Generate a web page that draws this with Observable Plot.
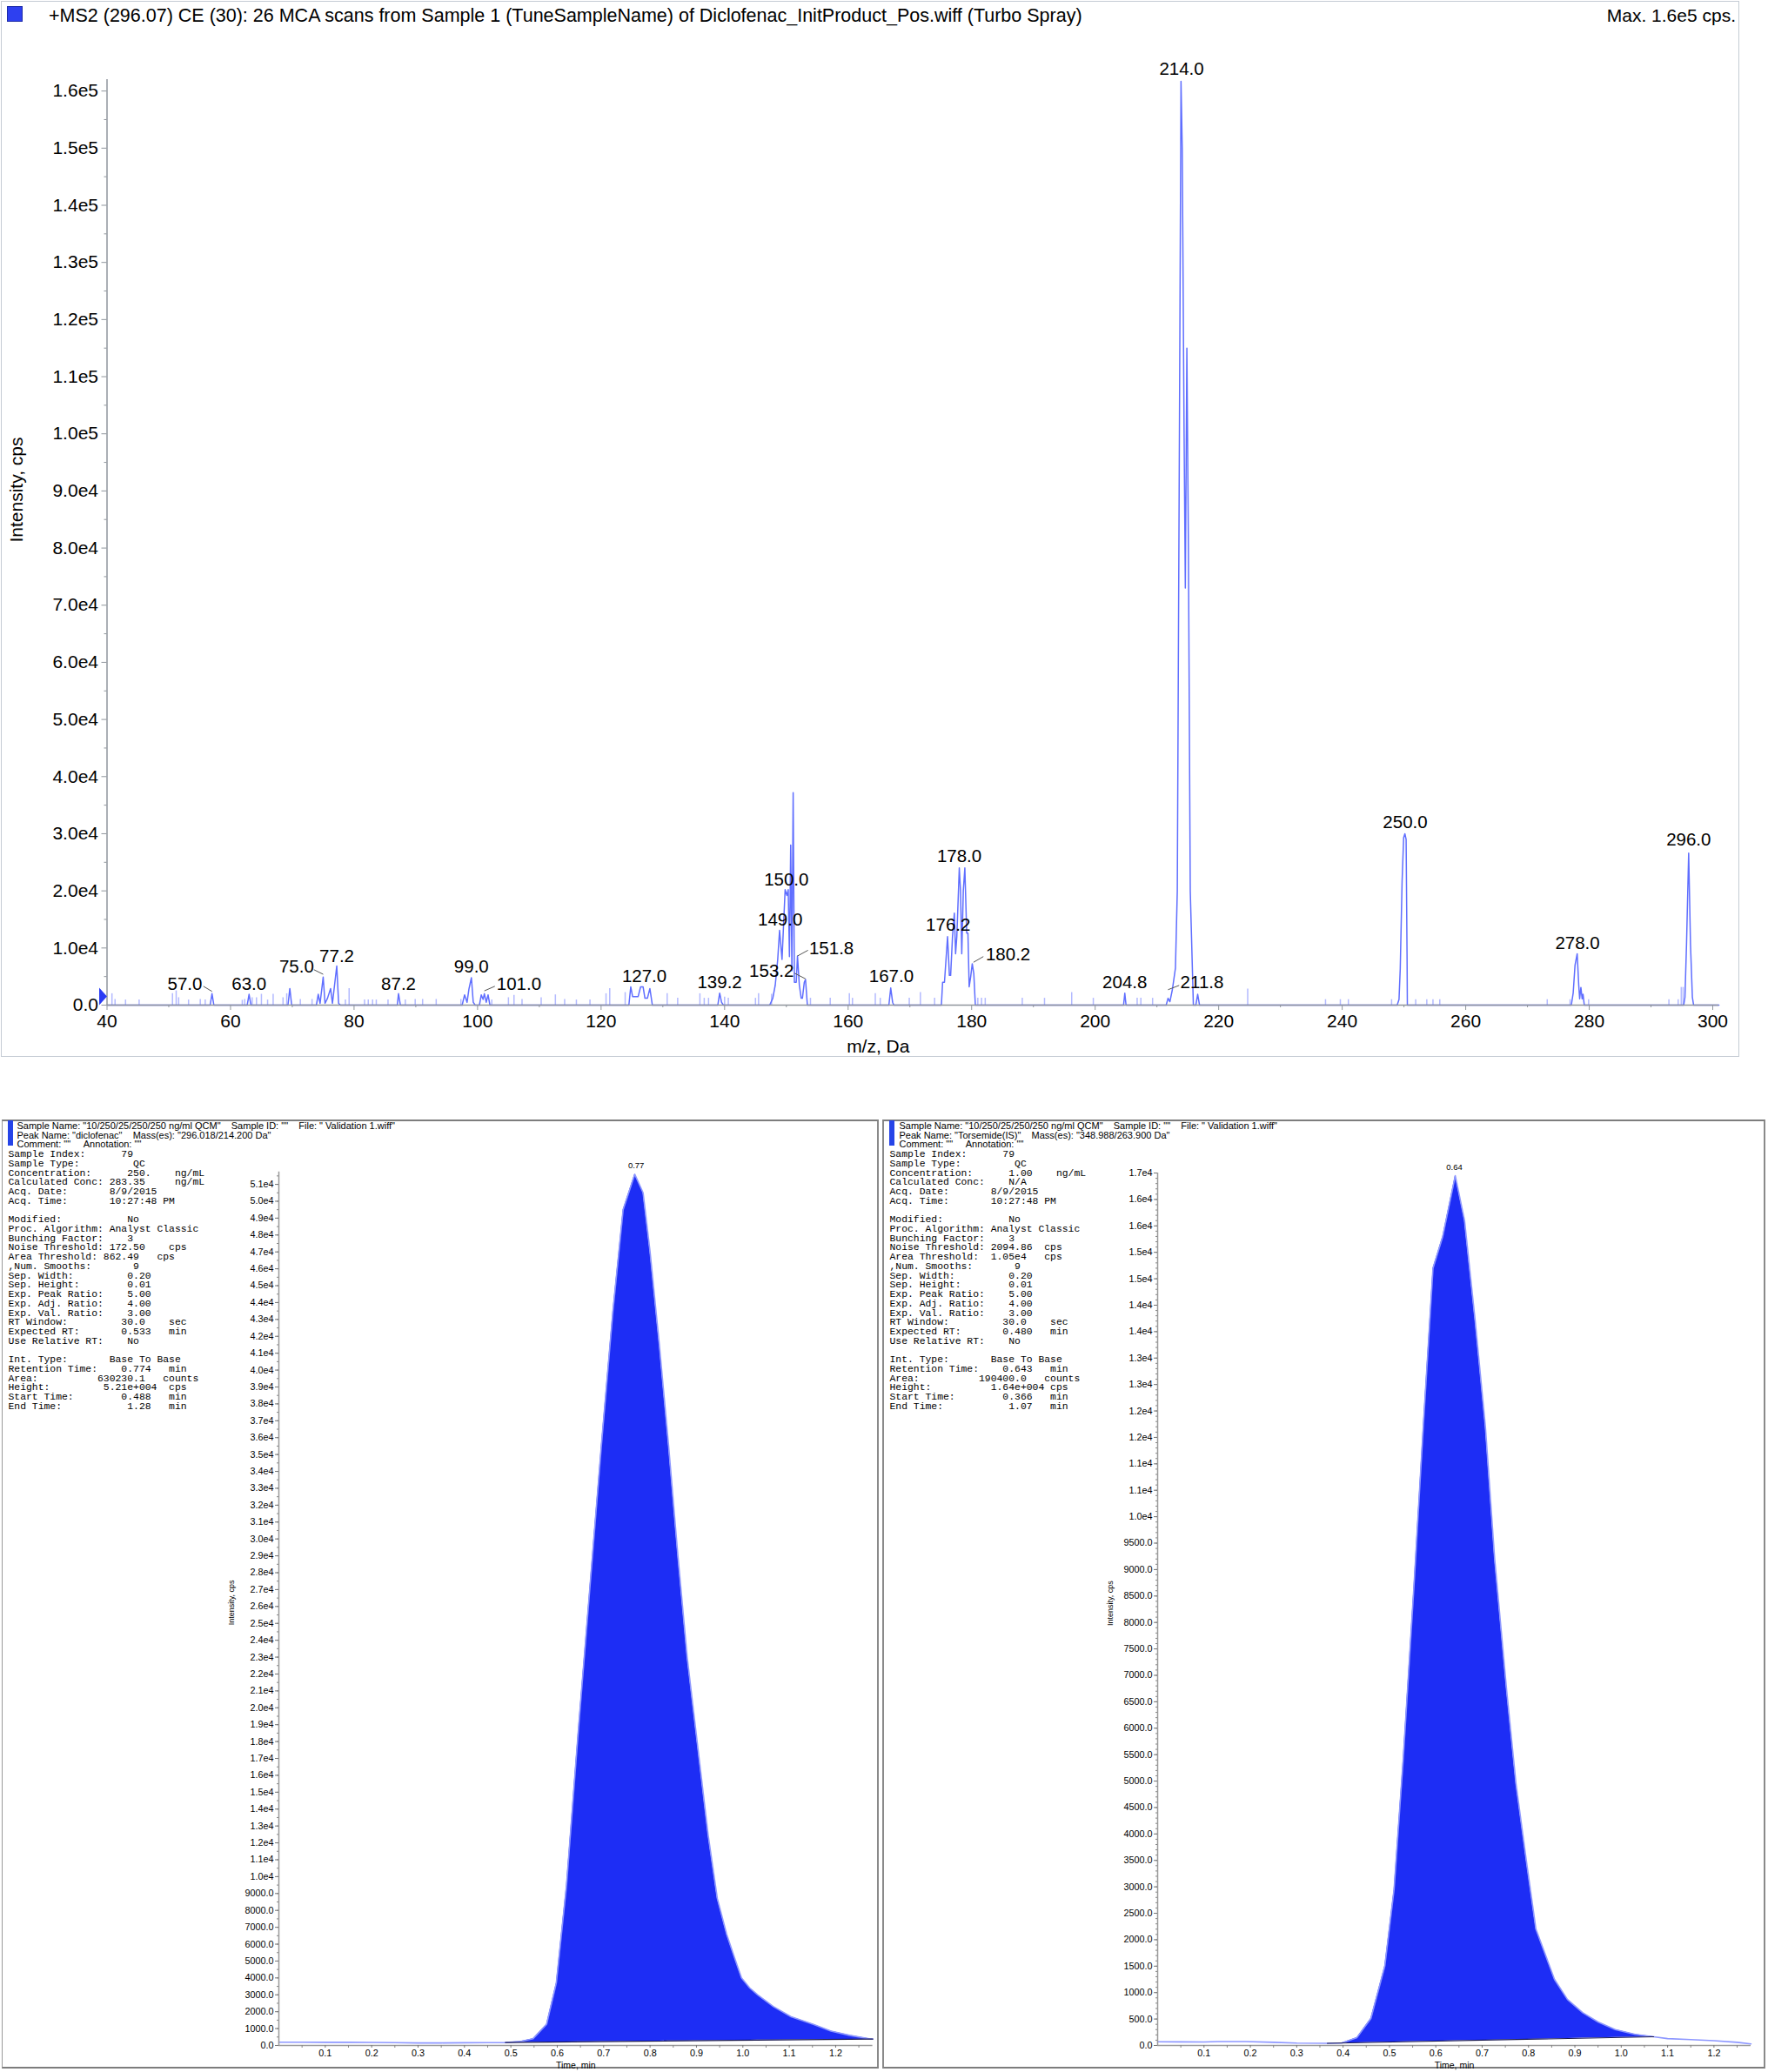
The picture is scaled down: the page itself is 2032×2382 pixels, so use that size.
<!DOCTYPE html>
<html><head><meta charset="utf-8">
<script src="https://cdn.jsdelivr.net/npm/d3@7"></script>
<script src="https://cdn.jsdelivr.net/npm/@observablehq/plot@0.6"></script>
<style>
html,body{margin:0;padding:0;background:#fff;}
body{width:2032px;height:2382px;position:relative;overflow:hidden;font-family:"Liberation Sans",Arial,sans-serif;color:#000;}
.abs{position:absolute;}
.box{position:absolute;box-sizing:border-box;}
.mono{position:absolute;font-family:"Liberation Mono","Courier New",monospace;font-size:11.4px;line-height:10.72px;white-space:pre;}
.hdr{position:absolute;font-size:11px;line-height:10.6px;white-space:pre;}
</style></head><body>
<script>
// ================= DATA =================
// --- top: product-ion spectrum ---
const msTitle = "+MS2 (296.07) CE (30): 26 MCA scans from Sample 1 (TuneSampleName) of Diclofenac_InitProduct_Pos.wiff (Turbo Spray)";
const msMaxText = "Max. 1.6e5 cps.";
const msXLabel = "m/z, Da";
const msYLabel = "Intensity, cps";
const msXTicks = [40,60,80,100,120,140,160,180,200,220,240,260,280,300];
const msXMinor = [50,70,90,110,130,150,170,190,210,230,250,270,290];
const msYTicks = [0,10000,20000,30000,40000,50000,60000,70000,80000,90000,100000,110000,120000,130000,140000,150000,160000];
const msYTickLabels = ["0.0","1.0e4","2.0e4","3.0e4","4.0e4","5.0e4","6.0e4","7.0e4","8.0e4","9.0e4","1.0e5","1.1e5","1.2e5","1.3e5","1.4e5","1.5e5","1.6e5"];
// profile trace [m/z, intensity]
const msProfile = [
 [40,0],[56.7,0],[57.0,2000],[57.3,0],
 [62.7,0],[63.0,1900],[63.3,0],
 [69.3,0],[69.6,2900],[69.9,0],
 [73.9,0],[74.2,1900],[74.5,300],[75.0,4900],[75.3,300],[75.7,1200],[76.2,2900],[76.5,300],[77.2,6850],[77.5,300],[77.8,0],
 [87.0,0],[87.2,2000],[87.5,0],
 [97.5,0],[97.9,1800],[98.3,500],[98.6,2800],[99.0,4800],[99.3,500],[99.6,0],
 [100.3,0],[100.6,1800],[100.9,1000],[101.1,2000],[101.4,500],[101.7,1800],[102.0,0],
 [124.5,0],[124.8,3200],[125.1,1500],[125.6,1500],[126.0,1500],[126.4,3200],[126.8,3200],[127.1,1200],[127.5,1200],[127.9,2900],[128.3,0],
 [138.9,0],[139.2,2100],[139.5,500],[139.8,0],
 [147.3,0],[147.8,1200],[148.2,3500],[148.6,8000],[148.9,13100],[149.3,8000],[149.8,20200],[150.1,19200],[150.3,20200],[150.5,8500],[150.7,28000],[150.9,6000],[151.1,37200],[151.3,4000],[151.6,4000],[151.8,8600],[152.1,3500],[152.4,1200],[152.6,1200],[152.9,4000],[153.1,4500],[153.4,0],
 [166.6,0],[166.9,3000],[167.2,500],[167.4,0],
 [175.1,0],[175.3,4000],[175.6,4000],[176.1,12000],[176.4,5200],[176.6,5200],[176.9,12000],[177.2,16100],[177.4,9000],[177.6,12000],[178.0,24000],[178.2,20000],[178.4,9000],[178.65,20000],[178.9,24000],[179.2,12600],[179.4,12600],[179.6,3200],[179.85,5000],[180.1,7250],[180.35,5500],[180.6,0],
 [204.6,0],[204.8,2100],[205.0,0],
 [211.5,0],[211.8,1200],[212.1,600],[212.5,2700],[213.0,6500],[213.3,20000],[213.6,90000],[213.9,161700],[214.1,150000],[214.4,100000],[214.6,73000],[214.85,115000],[215.1,80000],[215.4,20000],[215.9,0],[216.3,0],[216.6,1900],[216.9,0],
 [248.9,0],[249.2,1000],[249.4,6400],[249.7,21700],[249.95,29300],[250.15,30000],[250.35,29000],[250.5,9000],[250.55,0],
 [277.1,0],[277.4,2100],[277.7,7000],[278.05,9000],[278.3,3500],[278.45,1100],[278.65,3100],[278.85,1100],[279.0,1900],[279.2,0],
 [295.3,0],[295.5,1400],[295.75,10500],[296.1,26600],[296.4,10500],[296.7,1400],[296.9,0],[301,0]
];
// isolated noise sticks [m/z, intensity]
const msNoise = [
 [40.8,2000],[41.3,1000],[43.0,900],[45.2,900],[50.6,2000],[51.2,2500],[51.6,1300],[53.2,900],[55.1,1000],[55.9,900],
 [61.9,850],[62.3,1000],[63.5,1300],[64.2,1300],[65.0,1900],[66.0,900],[66.9,1900],[68.5,1300],[69.1,2000],[71.3,1000],
 [73.2,1000],[78.6,900],[79.2,2900],[81.7,900],[82.3,900],[83.0,900],[83.6,900],[85.5,900],[88.3,900],[89.9,1000],
 [91.1,1000],[93.3,1000],[97.3,1000],[102.3,900],[105.0,1300],[105.9,1700],[107.2,1000],[110.3,1300],[112.6,1800],[114.1,1000],
 [116.0,900],[118.2,900],[120.8,2000],[121.4,2900],[123.9,2200],[130.7,2000],[132.4,1200],[136.0,2000],[136.7,1200],[137.4,1200],
 [140.0,1400],[140.6,1200],[145.0,1200],[145.5,2000],[147.6,1900],[153.9,1200],[157.1,1200],[160.2,2000],[160.7,1200],[164.4,2000],
 [165.2,1200],[169.9,1200],[171.7,2200],[174.0,1200],[181.0,1200],[181.6,1200],[182.2,1200],[188.2,1200],[191.8,1200],[196.2,2200],
 [199.7,1200],[206.8,1200],[207.4,1200],[209.3,1200],[224.7,2800],[237.3,960],[239.7,960],[241.0,960],[248.0,960],[251.9,960],
 [253.7,960],[254.7,960],[255.8,960],[273.2,960],[276.9,960],[279.9,960],[292.9,960],[294.4,960],[294.9,3100],[295.2,3100]
];
// peak annotations: text, label centre (m/z, intensity)
const msPeakText = ["57.0","63.0","75.0","77.2","87.2","99.0","101.0","127.0","139.2","153.2","149.0","150.0","151.8","167.0","176.2","178.0","180.2","204.8","211.8","214.0","250.0","278.0","296.0"];
const msPeakMz   = [52.6,63.0,70.7,77.2,87.2,99.0,106.7,127.0,139.2,147.6,149.0,150.0,157.3,167.0,176.2,178.0,185.9,204.8,217.3,214.0,250.2,278.1,296.1];
const msPeakInt  = [3700,3700,6700,8600,3700,6700,3700,5000,4000,6000,15000,22000,9900,5000,14000,26000,8900,4000,3900,163800,32000,10800,28900];
// leader lines from label to peak
const leadFromMz  = [55.6,73.5,102.8,151.3,153.5,181.9,213.6];
const leadFromInt = [3300,6200,3300,5600,9600,8500,3450];
const leadToMz    = [57.0,75.0,101.1,153.1,151.8,180.3,211.8];
const leadToInt   = [2400,5400,2500,4600,8600,7500,2700];

// --- bottom: XIC panels ---
const xicXTicks = [0.1,0.2,0.3,0.4,0.5,0.6,0.7,0.8,0.9,1.0,1.1,1.2];
const xicXLabel = "Time, min";
const xicYLabel = "Intensity, cps";
const dicloYTicks = [0,1000,2000,3000,4000,5000,6000,7000,8000,9000,10000,11000,12000,13000,14000,15000,16000,17000,18000,19000,20000,21000,22000,23000,24000,25000,26000,27000,28000,29000,30000,31000,32000,33000,34000,35000,36000,37000,38000,39000,40000,41000,42000,43000,44000,45000,46000,47000,48000,49000,50000,51000];
const dicloYLabels = ["0.0","1000.0","2000.0","3000.0","4000.0","5000.0","6000.0","7000.0","8000.0","9000.0","1.0e4","1.1e4","1.2e4","1.3e4","1.4e4","1.5e4","1.6e4","1.7e4","1.8e4","1.9e4","2.0e4","2.1e4","2.2e4","2.3e4","2.4e4","2.5e4","2.6e4","2.7e4","2.8e4","2.9e4","3.0e4","3.1e4","3.2e4","3.3e4","3.4e4","3.5e4","3.6e4","3.7e4","3.8e4","3.9e4","4.0e4","4.1e4","4.2e4","4.3e4","4.4e4","4.5e4","4.6e4","4.7e4","4.8e4","4.9e4","5.0e4","5.1e4"];
const torsYTicks = [0,500,1000,1500,2000,2500,3000,3500,4000,4500,5000,5500,6000,6500,7000,7500,8000,8500,9000,9500,10000,10500,11000,11500,12000,12500,13000,13500,14000,14500,15000,15500,16000,16500];
const torsYLabels = ["0.0","500.0","1000.0","1500.0","2000.0","2500.0","3000.0","3500.0","4000.0","4500.0","5000.0","5500.0","6000.0","6500.0","7000.0","7500.0","8000.0","8500.0","9000.0","9500.0","1.0e4","1.1e4","1.1e4","1.2e4","1.2e4","1.3e4","1.3e4","1.4e4","1.4e4","1.5e4","1.5e4","1.6e4","1.6e4","1.7e4"];

const dicloTime = [0.00,0.05,0.10,0.15,0.20,0.25,0.30,0.35,0.40,0.45,0.488,0.52,0.548,0.577,0.598,0.620,0.645,0.670,0.695,0.720,0.742,0.767,0.785,0.800,0.820,0.840,0.860,0.880,0.895,0.910,0.925,0.945,0.965,0.982,0.997,1.015,1.032,1.066,1.104,1.152,1.190,1.230,1.272,1.280];
const dicloInt  = [190,190,185,185,180,165,150,150,160,170,175,230,400,1250,3700,9500,18500,27000,35500,43500,49500,51600,50500,47000,41500,35500,29000,23000,19500,16000,12500,8700,6600,5200,4000,3400,3000,2300,1700,1250,850,600,400,380];
const dicloStart = 0.488, dicloEnd = 1.28, dicloBase0 = 175, dicloBase1 = 380;
const dicloPeakText = "0.77", dicloPeakTime = 0.77;

const torsTime = [0.00,0.05,0.10,0.13,0.19,0.25,0.30,0.366,0.397,0.430,0.460,0.490,0.510,0.530,0.553,0.573,0.594,0.615,0.642,0.662,0.685,0.707,0.727,0.753,0.773,0.796,0.816,0.856,0.884,0.917,0.950,0.987,1.030,1.070,1.100,1.150,1.200,1.250,1.280];
const torsInt  = [70,68,65,75,75,60,45,40,45,150,510,1500,2950,5450,8700,11700,14700,15300,16450,15600,13700,11700,9200,6700,4950,3450,2200,1250,870,620,445,300,210,165,130,110,90,60,30];
const torsStart = 0.366, torsEnd = 1.07, torsBase0 = 40, torsBase1 = 165;
const torsPeakText = "0.64", torsPeakTime = 0.64;

const dicloHeader = [
 'Sample Name: "10/250/25/250/250 ng/ml QCM"    Sample ID: ""    File: " Validation 1.wiff"',
 'Peak Name: "diclofenac"    Mass(es): "296.018/214.200 Da"',
 'Comment: ""     Annotation: ""'];
const torsHeader = [
 'Sample Name: "10/250/25/250/250 ng/ml QCM"    Sample ID: ""    File: " Validation 1.wiff"',
 'Peak Name: "Torsemide(IS)"    Mass(es): "348.988/263.900 Da"',
 'Comment: ""     Annotation: ""'];
const dicloInfo = [
 "Sample Index:      79",
 "Sample Type:         QC",
 "Concentration:      250.    ng/mL",
 "Calculated Conc: 283.35     ng/mL",
 "Acq. Date:       8/9/2015",
 "Acq. Time:       10:27:48 PM",
 "",
 "Modified:           No",
 "Proc. Algorithm: Analyst Classic",
 "Bunching Factor:    3",
 "Noise Threshold: 172.50    cps",
 "Area Threshold: 862.49   cps",
 ",Num. Smooths:       9",
 "Sep. Width:         0.20",
 "Sep. Height:        0.01",
 "Exp. Peak Ratio:    5.00",
 "Exp. Adj. Ratio:    4.00",
 "Exp. Val. Ratio:    3.00",
 "RT Window:         30.0    sec",
 "Expected RT:       0.533   min",
 "Use Relative RT:    No",
 "",
 "Int. Type:       Base To Base",
 "Retention Time:    0.774   min",
 "Area:          630230.1   counts",
 "Height:         5.21e+004  cps",
 "Start Time:        0.488   min",
 "End Time:           1.28   min"];
const torsInfo = [
 "Sample Index:      79",
 "Sample Type:         QC",
 "Concentration:      1.00    ng/mL",
 "Calculated Conc:    N/A",
 "Acq. Date:       8/9/2015",
 "Acq. Time:       10:27:48 PM",
 "",
 "Modified:           No",
 "Proc. Algorithm: Analyst Classic",
 "Bunching Factor:    3",
 "Noise Threshold: 2094.86  cps",
 "Area Threshold:  1.05e4   cps",
 ",Num. Smooths:       9",
 "Sep. Width:         0.20",
 "Sep. Height:        0.01",
 "Exp. Peak Ratio:    5.00",
 "Exp. Adj. Ratio:    4.00",
 "Exp. Val. Ratio:    3.00",
 "RT Window:         30.0    sec",
 "Expected RT:       0.480   min",
 "Use Relative RT:    No",
 "",
 "Int. Type:       Base To Base",
 "Retention Time:    0.643   min",
 "Area:          190400.0   counts",
 "Height:          1.64e+004 cps",
 "Start Time:        0.366   min",
 "End Time:           1.07   min"];

// ================= LAYOUT HELPERS =================
const FONT = "'Liberation Sans', Arial, sans-serif";
function place(el, left, top, w, h) {
  const d = document.createElement("div");
  d.className = "abs";
  d.style.left = left + "px"; d.style.top = top + "px";
  if (w != null) d.style.width = w + "px";
  if (h != null) d.style.height = h + "px";
  if (el) d.appendChild(el);
  document.body.appendChild(d);
  return d;
}
function box(left, top, w, h, css) {
  const d = document.createElement("div");
  d.className = "box";
  Object.assign(d.style, {left: left + "px", top: top + "px", width: w + "px", height: h + "px"}, css);
  document.body.appendChild(d);
  return d;
}
function textDiv(cls, left, top, lines, css) {
  const d = document.createElement("div");
  d.className = cls;
  d.style.left = left + "px"; d.style.top = top + "px";
  d.textContent = lines.join("\n");
  if (css) Object.assign(d.style, css);
  document.body.appendChild(d);
  return d;
}

// ================= TOP SPECTRUM =================
box(1, 1, 1998, 1214, {border: "1.5px solid #c5ccd4"});
box(8, 7, 18, 18, {background: "#2e40f0", border: "1px solid #1c2aa8"});
textDiv("abs", 56, 6, [msTitle], {fontSize: "21.5px", lineHeight: "24px", whiteSpace: "pre"});
textDiv("abs", 1500, 6, [msMaxText], {fontSize: "21px", lineHeight: "24px", width: "495px", textAlign: "right", whiteSpace: "pre"});

const tri = {draw(ctx) { ctx.moveTo(-9, -10); ctx.lineTo(0, 0); ctx.lineTo(-9, 10); ctx.closePath(); }};
const msLabelMap = new Map(msYTicks.map((d, i) => [d, msYTickLabels[i]]));
const msLabels = msPeakText.map((t, i) => ({t, mz: msPeakMz[i], v: msPeakInt[i]}));
const msLeaders = leadFromMz.map((d, i) => ({x1: d, y1: leadFromInt[i], x2: leadToMz[i], y2: leadToInt[i]}));
const AX = "#8f959c";

const ms = Plot.plot({
  width: 2000, height: 1216,
  marginLeft: 122.5, marginRight: 24.9, marginTop: 91, marginBottom: 61,
  x: {domain: [40, 301]},
  y: {domain: [0, 162000]},
  style: {background: "transparent", overflow: "visible", fontFamily: FONT, color: "#000"},
  marks: [
    Plot.ruleX(msNoise, {x: d => d[0], y1: 0, y2: d => d[1], stroke: "#b3baff", strokeWidth: 1.5}),
    Plot.line(msProfile, {x: d => d[0], y: d => d[1], stroke: "#5f6eff", strokeWidth: 1.5}),
    Plot.ruleY([0], {stroke: AX, strokeWidth: 1.5}),
    Plot.ruleX([40], {stroke: AX, strokeWidth: 1.5}),
    Plot.axisY(msYTicks.slice(0, -1).map(d => d + 5000), {tickSize: 3, fill: "none", stroke: AX, label: null}),
    Plot.axisY(msYTicks, {tickSize: 6, tickPadding: 4, fontSize: 21, stroke: AX, tickFormat: d => msLabelMap.get(d), label: null}),
    Plot.axisX(msXMinor, {tickSize: 3, fill: "none", stroke: AX, label: null}),
    Plot.axisX(msXTicks, {tickSize: 6, tickPadding: 5, fontSize: 21, stroke: AX, label: null}),
    Plot.link(msLeaders, {x1: "x1", y1: "y1", x2: "x2", y2: "y2", stroke: "#555", strokeWidth: 1}),
    Plot.text(msLabels, {x: "mz", y: "v", text: "t", fontSize: 20.5, lineAnchor: "middle", fill: "#000"}),
    Plot.dot([{mz: msXTicks[0], v: 0}], {x: "mz", y: "v", symbol: tri, r: 5, fill: "#2a3cf5", stroke: "none", dy: -10}),
    Plot.text([msXLabel], {frameAnchor: "bottom", dx: -40, dy: 48, fontSize: 21, lineAnchor: "middle"}),
    Plot.text([msYLabel], {frameAnchor: "left", rotate: -90, dx: -104, fontSize: 21, lineAnchor: "middle"})
  ]
});
place(ms, 0, 0, 2000, 1216);

// ================= XIC PANELS =================
function interp(ts, vs, t) {
  for (let i = 1; i < ts.length; i++) if (t <= ts[i]) {
    const f = (t - ts[i - 1]) / (ts[i] - ts[i - 1]);
    return vs[i - 1] + f * (vs[i] - vs[i - 1]);
  }
  return vs[vs.length - 1];
}
function chrom(o) {
  const trace = o.ts.map((t, i) => ({t, v: o.vs[i]}));
  const base = t => o.b0 + (t - o.t0) / (o.t1 - o.t0) * (o.b1 - o.b0);
  const rows = [{t: o.t0, v: interp(o.ts, o.vs, o.t0), b: o.b0}];
  o.ts.forEach((t, i) => { if (t > o.t0 && t < o.t1) rows.push({t, v: o.vs[i], b: base(t)}); });
  rows.push({t: o.t1, v: interp(o.ts, o.vs, o.t1), b: o.b1});
  const lab = new Map(o.yTicks.map((d, i) => [d, o.yLabels[i]]));
  const apex = d3.max(o.vs);
  const xMinor = d3.range(0.05, 1.28, 0.1);
  const yMinor = d3.range(0, o.yMax, o.minorStep);
  return Plot.plot({
    width: o.width, height: o.height,
    marginLeft: o.mL, marginRight: o.mR, marginTop: o.mT, marginBottom: o.mB,
    x: {domain: [0, 1.28]},
    y: {domain: [0, o.yMax]},
    style: {background: "transparent", overflow: "visible", fontFamily: FONT, color: "#000"},
    marks: [
      Plot.areaY(rows, {x: "t", y1: "b", y2: "v", fill: "#1d2df5"}),
      Plot.line(trace, {x: "t", y: "v", stroke: "#8d97ff", strokeWidth: 1.6}),
      Plot.line([rows[0], rows[rows.length - 1]], {x: "t", y: "b", stroke: "#1a1a50", strokeWidth: 1.1}),
      Plot.ruleX([0], {stroke: "#9a9a9a", strokeWidth: 1.5}),
      Plot.ruleY([0], {stroke: "#9a9a9a", strokeWidth: 1.5}),
      Plot.axisY(yMinor, {tickSize: 2, fill: "none", stroke: "#888", label: null}),
      Plot.axisY(o.yTicks, {tickSize: 4, tickPadding: 2, fontSize: 10.8, stroke: "#777", tickFormat: d => lab.get(d), label: null}),
      Plot.axisX(xMinor, {tickSize: 3, fill: "none", stroke: "#888", label: null}),
      Plot.axisX(xicXTicks, {tickSize: 3, tickPadding: 2, fontSize: 10.8, stroke: "#777", tickFormat: d3.format(".1f"), label: null}),
      Plot.text([{t: o.peakT, v: apex}], {x: "t", y: "v", text: () => o.peakText, dy: -10, fontSize: 9.5}),
      Plot.text([xicXLabel], {frameAnchor: "bottom", dy: 23, fontSize: 10.5, lineAnchor: "middle"}),
      Plot.text([xicYLabel], {frameAnchor: "left", rotate: -90, dx: -54, dy: 19, fontSize: 9, lineAnchor: "middle"})
    ]
  });
}

// left panel
box(2, 1287, 1008, 1091, {borderTop: "2px solid #7d7d7d", borderLeft: "1.5px solid #9a9a9a", borderRight: "2px solid #8a8a8a", borderBottom: "2px solid #7d7d7d"});
const left = chrom({ts: dicloTime, vs: dicloInt, t0: dicloStart, t1: dicloEnd, b0: dicloBase0, b1: dicloBase1,
  yMax: 51740, yTicks: dicloYTicks, yLabels: dicloYLabels, minorStep: 500, peakT: dicloPeakTime, peakText: dicloPeakText,
  width: 1012, height: 1086, mL: 320, mR: 9.4, mT: 56.7, mB: 25});
place(left, 0, 1290, 1012, 1086);
box(8.5, 1288, 6.5, 29, {background: "#2644e8"});
textDiv("hdr", 19.5, 1289, dicloHeader);
textDiv("mono", 9.5, 1322.3, dicloInfo);

// right panel
box(1014, 1287, 1015, 1091, {borderTop: "2px solid #7d7d7d", borderLeft: "2px solid #8a8a8a", borderRight: "2px solid #8a8a8a", borderBottom: "2px solid #7d7d7d"});
const right = chrom({ts: torsTime, vs: torsInt, t0: torsStart, t1: torsEnd, b0: torsBase0, b1: torsBase1,
  yMax: 16500, yTicks: torsYTicks, yLabels: torsYLabels, minorStep: 100, peakT: torsPeakTime, peakText: torsPeakText,
  width: 1011, height: 1086, mL: 319, mR: 10, mT: 58, mB: 25});
place(right, 1011, 1290, 1011, 1086);
box(1021.5, 1288, 6.5, 29, {background: "#2644e8"});
textDiv("hdr", 1033.5, 1289, torsHeader);
textDiv("mono", 1022.5, 1322.3, torsInfo);
</script>
</body></html>
